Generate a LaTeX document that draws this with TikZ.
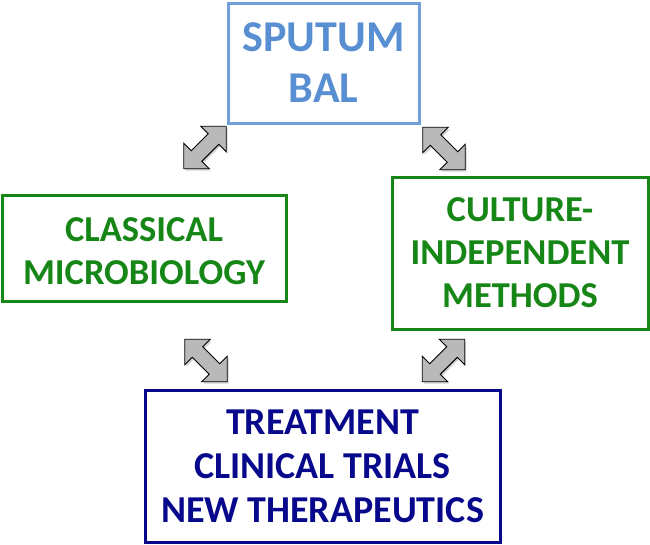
\documentclass[tikz,border=0pt]{standalone}
\usepackage{fontspec}
\setmainfont{Carlito}
\usepackage{tikz}
\usetikzlibrary{positioning,shadows}
\usepackage{xcolor}
\definecolor{lightblue}{RGB}{88,142,210}
\definecolor{darkgreen}{RGB}{22,134,22}
\definecolor{navy}{RGB}{8,8,140}
\tikzset{
  box/.style={draw,line width=3pt,rectangle,align=center,inner sep=0pt,font=\bfseries},
  blockarrow/.style={draw=black,line width=0.9pt,fill=gray!55,line join=miter,
    drop shadow={shadow xshift=1.5pt,shadow yshift=-2pt,opacity=0.35}}
}
\begin{document}
\begin{tikzpicture}[x=1pt,y=-1pt]
\useasboundingbox (0,0) rectangle (650,544);
\node[box,draw=lightblue!85,text=lightblue,minimum width=191pt,minimum height=120pt,
  font=\fontsize{44}{51}\selectfont\bfseries] (sputum) at (323.5,63) {SPUTUM\\BAL};
\node[box,draw=darkgreen,text=darkgreen,minimum width=284pt,minimum height=106pt,
  font=\fontsize{36.5}{43}\selectfont\bfseries] (classical) at (144,248) {\strut CLASSICAL\\MICROBIOLOGY};
\node[box,draw=darkgreen,text=darkgreen,minimum width=256pt,minimum height=152pt,
  font=\fontsize{36.5}{43}\selectfont\bfseries] (culture) at (520,253) {CULTURE-\\INDEPENDENT\\METHODS};
\node[box,draw=navy,text=navy,minimum width=355pt,minimum height=152pt,
  font=\fontsize{38}{44}\selectfont\bfseries] (treatment) at (322.5,466) {TREATMENT\\CLINICAL TRIALS\\NEW THERAPEUTICS};
% arrows between the boxes
\foreach \nm/\pos/\ang in {arrTL/{205,147.5}/45,arrTR/{444,148.5}/-45,
                           arrBL/{206,360.5}/-45,arrBR/{443.5,360.5}/45}{
  \coordinate (\nm) at (\pos);
  \draw[blockarrow,shift={(\nm)},rotate=\ang]
    (30,0) -- (12,18) -- (12,7.5) -- (-12,7.5) -- (-12,18) -- (-30,0)
    -- (-12,-18) -- (-12,-7.5) -- (12,-7.5) -- (12,-18) -- cycle;
}
\end{tikzpicture}
\end{document}
